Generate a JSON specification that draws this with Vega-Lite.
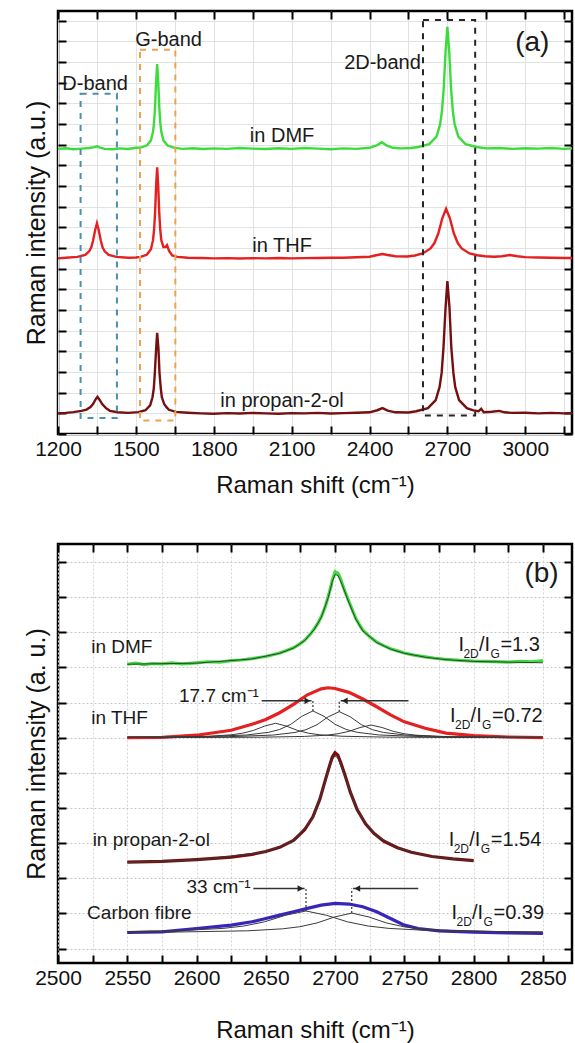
{
  "$schema": "https://vega.github.io/schema/vega-lite/v6.json",
  "padding": {"left": 22, "top": 8, "right": 0, "bottom": 0},
  "spacing": 110,
  "bounds": "flush",
  "config": {
    "font": "Liberation Sans",
    "view": {"stroke": "#000", "strokeWidth": 2.5},
    "axis": {"domain": false, "tickColor": "#000", "tickWidth": 2, "tickSize": -8, "labelFont": "Liberation Sans", "labelFontSize": 21, "labelColor": "#111", "labelFlush": false, "titleFont": "Liberation Sans", "titleFontWeight": "normal", "titleColor": "#111", "titleFontSize": 24, "gridColor": "#e2e2e2", "gridWidth": 1}
  },
  "datasets": {
    "a": [
      {"s":"DMF","x":1200,"y":13.80},{"s":"DMF","x":1230,"y":13.83},{"s":"DMF","x":1260,"y":13.78},{"s":"DMF","x":1290,"y":13.81},{"s":"DMF","x":1320,"y":13.84},{"s":"DMF","x":1340,"y":13.88},{"s":"DMF","x":1350,"y":13.92},{"s":"DMF","x":1360,"y":13.87},{"s":"DMF","x":1380,"y":13.80},{"s":"DMF","x":1410,"y":13.78},{"s":"DMF","x":1440,"y":13.82},{"s":"DMF","x":1470,"y":13.79},{"s":"DMF","x":1500,"y":13.85},{"s":"DMF","x":1518,"y":13.86},{"s":"DMF","x":1542,"y":13.96},{"s":"DMF","x":1558,"y":14.21},{"s":"DMF","x":1566,"y":14.62},{"s":"DMF","x":1570,"y":15.06},{"s":"DMF","x":1574,"y":15.85},{"s":"DMF","x":1578,"y":17.08},{"s":"DMF","x":1582,"y":17.9},{"s":"DMF","x":1586,"y":17.08},{"s":"DMF","x":1590,"y":15.85},{"s":"DMF","x":1594,"y":15.06},{"s":"DMF","x":1598,"y":14.62},{"s":"DMF","x":1606,"y":14.21},{"s":"DMF","x":1622,"y":13.96},{"s":"DMF","x":1646,"y":13.86},{"s":"DMF","x":1680,"y":13.80},{"s":"DMF","x":1720,"y":13.83},{"s":"DMF","x":1760,"y":13.79},{"s":"DMF","x":1800,"y":13.82},{"s":"DMF","x":1850,"y":13.80},{"s":"DMF","x":1900,"y":13.84},{"s":"DMF","x":1950,"y":13.81},{"s":"DMF","x":2000,"y":13.79},{"s":"DMF","x":2050,"y":13.83},{"s":"DMF","x":2100,"y":13.80},{"s":"DMF","x":2150,"y":13.84},{"s":"DMF","x":2200,"y":13.81},{"s":"DMF","x":2250,"y":13.78},{"s":"DMF","x":2300,"y":13.82},{"s":"DMF","x":2350,"y":13.80},{"s":"DMF","x":2400,"y":13.85},{"s":"DMF","x":2430,"y":13.98},{"s":"DMF","x":2447,"y":14.12},{"s":"DMF","x":2465,"y":13.97},{"s":"DMF","x":2490,"y":13.85},{"s":"DMF","x":2520,"y":13.82},{"s":"DMF","x":2560,"y":13.84},{"s":"DMF","x":2588,"y":13.89},{"s":"DMF","x":2630,"y":14.03},{"s":"DMF","x":2658,"y":14.39},{"s":"DMF","x":2672,"y":14.98},{"s":"DMF","x":2679,"y":15.62},{"s":"DMF","x":2686,"y":16.75},{"s":"DMF","x":2693,"y":18.52},{"s":"DMF","x":2700,"y":19.7},{"s":"DMF","x":2707,"y":18.52},{"s":"DMF","x":2714,"y":16.75},{"s":"DMF","x":2721,"y":15.62},{"s":"DMF","x":2728,"y":14.98},{"s":"DMF","x":2742,"y":14.39},{"s":"DMF","x":2770,"y":14.03},{"s":"DMF","x":2812,"y":13.89},{"s":"DMF","x":2850,"y":13.82},{"s":"DMF","x":2900,"y":13.84},{"s":"DMF","x":2950,"y":13.80},{"s":"DMF","x":3000,"y":13.83},{"s":"DMF","x":3050,"y":13.81},{"s":"DMF","x":3100,"y":13.84},{"s":"DMF","x":3150,"y":13.80},{"s":"DMF","x":3180,"y":13.82},
      {"s":"THF","x":1200,"y":8.50},{"s":"THF","x":1230,"y":8.53},{"s":"THF","x":1275,"y":8.57},{"s":"THF","x":1305,"y":8.67},{"s":"THF","x":1320,"y":8.84},{"s":"THF","x":1328,"y":9.02},{"s":"THF","x":1335,"y":9.35},{"s":"THF","x":1343,"y":9.86},{"s":"THF","x":1350,"y":10.2},{"s":"THF","x":1357,"y":9.86},{"s":"THF","x":1365,"y":9.35},{"s":"THF","x":1372,"y":9.02},{"s":"THF","x":1380,"y":8.84},{"s":"THF","x":1395,"y":8.67},{"s":"THF","x":1425,"y":8.57},{"s":"THF","x":1470,"y":8.53},{"s":"THF","x":1500,"y":8.54},{"s":"THF","x":1518,"y":8.57},{"s":"THF","x":1542,"y":8.67},{"s":"THF","x":1558,"y":8.94},{"s":"THF","x":1566,"y":9.38},{"s":"THF","x":1570,"y":9.86},{"s":"THF","x":1574,"y":10.7},{"s":"THF","x":1578,"y":12.02},{"s":"THF","x":1582,"y":12.9},{"s":"THF","x":1586,"y":12.02},{"s":"THF","x":1590,"y":10.7},{"s":"THF","x":1594,"y":9.86},{"s":"THF","x":1598,"y":9.38},{"s":"THF","x":1606,"y":9.05},{"s":"THF","x":1614,"y":9.05},{"s":"THF","x":1620,"y":9.14},{"s":"THF","x":1628,"y":8.86},{"s":"THF","x":1640,"y":8.64},{"s":"THF","x":1660,"y":8.57},{"s":"THF","x":1700,"y":8.53},{"s":"THF","x":1750,"y":8.52},{"s":"THF","x":1800,"y":8.50},{"s":"THF","x":1850,"y":8.51},{"s":"THF","x":1900,"y":8.49},{"s":"THF","x":1950,"y":8.51},{"s":"THF","x":2000,"y":8.50},{"s":"THF","x":2050,"y":8.52},{"s":"THF","x":2100,"y":8.50},{"s":"THF","x":2150,"y":8.51},{"s":"THF","x":2200,"y":8.52},{"s":"THF","x":2250,"y":8.53},{"s":"THF","x":2300,"y":8.53},{"s":"THF","x":2350,"y":8.55},{"s":"THF","x":2400,"y":8.58},{"s":"THF","x":2430,"y":8.66},{"s":"THF","x":2450,"y":8.71},{"s":"THF","x":2470,"y":8.66},{"s":"THF","x":2500,"y":8.60},{"s":"THF","x":2545,"y":8.59},{"s":"THF","x":2575,"y":8.64},{"s":"THF","x":2605,"y":8.74},{"s":"THF","x":2635,"y":8.98},{"s":"THF","x":2650,"y":9.24},{"s":"THF","x":2665,"y":9.70},{"s":"THF","x":2680,"y":10.42},{"s":"THF","x":2695,"y":10.9},{"s":"THF","x":2710,"y":10.42},{"s":"THF","x":2725,"y":9.70},{"s":"THF","x":2740,"y":9.24},{"s":"THF","x":2755,"y":8.98},{"s":"THF","x":2785,"y":8.74},{"s":"THF","x":2815,"y":8.65},{"s":"THF","x":2845,"y":8.60},{"s":"THF","x":2880,"y":8.58},{"s":"THF","x":2910,"y":8.60},{"s":"THF","x":2940,"y":8.66},{"s":"THF","x":2970,"y":8.60},{"s":"THF","x":3000,"y":8.56},{"s":"THF","x":3050,"y":8.54},{"s":"THF","x":3100,"y":8.53},{"s":"THF","x":3150,"y":8.52},{"s":"THF","x":3180,"y":8.52},
      {"s":"propan","x":1200,"y":1.00},{"s":"propan","x":1230,"y":1.02},{"s":"propan","x":1260,"y":1.06},{"s":"propan","x":1290,"y":1.12},{"s":"propan","x":1310,"y":1.18},{"s":"propan","x":1325,"y":1.30},{"s":"propan","x":1335,"y":1.45},{"s":"propan","x":1345,"y":1.68},{"s":"propan","x":1352,"y":1.80},{"s":"propan","x":1360,"y":1.66},{"s":"propan","x":1370,"y":1.45},{"s":"propan","x":1385,"y":1.25},{"s":"propan","x":1400,"y":1.12},{"s":"propan","x":1430,"y":1.05},{"s":"propan","x":1470,"y":1.02},{"s":"propan","x":1510,"y":1.06},{"s":"propan","x":1537,"y":1.15},{"s":"propan","x":1555,"y":1.39},{"s":"propan","x":1564,"y":1.78},{"s":"propan","x":1569,"y":2.20},{"s":"propan","x":1573,"y":2.95},{"s":"propan","x":1578,"y":4.12},{"s":"propan","x":1582,"y":4.9},{"s":"propan","x":1587,"y":4.12},{"s":"propan","x":1591,"y":2.95},{"s":"propan","x":1596,"y":2.20},{"s":"propan","x":1600,"y":1.78},{"s":"propan","x":1609,"y":1.45},{"s":"propan","x":1618,"y":1.30},{"s":"propan","x":1627,"y":1.17},{"s":"propan","x":1654,"y":1.07},{"s":"propan","x":1700,"y":1.03},{"s":"propan","x":1750,"y":1.00},{"s":"propan","x":1800,"y":0.98},{"s":"propan","x":1850,"y":1.01},{"s":"propan","x":1900,"y":0.99},{"s":"propan","x":1950,"y":1.02},{"s":"propan","x":2000,"y":1.00},{"s":"propan","x":2050,"y":0.98},{"s":"propan","x":2100,"y":1.01},{"s":"propan","x":2150,"y":1.00},{"s":"propan","x":2200,"y":1.02},{"s":"propan","x":2250,"y":0.99},{"s":"propan","x":2300,"y":1.01},{"s":"propan","x":2350,"y":1.03},{"s":"propan","x":2400,"y":1.05},{"s":"propan","x":2430,"y":1.15},{"s":"propan","x":2450,"y":1.25},{"s":"propan","x":2470,"y":1.13},{"s":"propan","x":2500,"y":1.05},{"s":"propan","x":2550,"y":1.04},{"s":"propan","x":2580,"y":1.10},{"s":"propan","x":2625,"y":1.25},{"s":"propan","x":2655,"y":1.64},{"s":"propan","x":2670,"y":2.28},{"s":"propan","x":2678,"y":2.97},{"s":"propan","x":2685,"y":4.20},{"s":"propan","x":2693,"y":6.12},{"s":"propan","x":2700,"y":7.4},{"s":"propan","x":2708,"y":6.12},{"s":"propan","x":2715,"y":4.20},{"s":"propan","x":2723,"y":2.97},{"s":"propan","x":2730,"y":2.28},{"s":"propan","x":2745,"y":1.64},{"s":"propan","x":2775,"y":1.25},{"s":"propan","x":2800,"y":1.14},{"s":"propan","x":2820,"y":1.10},{"s":"propan","x":2830,"y":1.22},{"s":"propan","x":2840,"y":1.05},{"s":"propan","x":2870,"y":1.08},{"s":"propan","x":2900,"y":1.12},{"s":"propan","x":2920,"y":1.05},{"s":"propan","x":2950,"y":1.02},{"s":"propan","x":3000,"y":1.03},{"s":"propan","x":3050,"y":1.00},{"s":"propan","x":3100,"y":1.02},{"s":"propan","x":3150,"y":1.00},{"s":"propan","x":3180,"y":1.01}
    ],
    "aBox": [
      {"band":"D","x1":1287,"x2":1427,"y1":0.77,"y2":16.46},
      {"band":"G","x1":1516,"x2":1652,"y1":0.65,"y2":18.59},
      {"band":"2D","x1":2606,"x2":2807,"y1":0.9,"y2":20.04}
    ],
    "aText": [
      {"label":"D-band","x":1343,"y":16.96},
      {"label":"G-band","x":1626,"y":19.07},
      {"label":"2D-band","x":2450,"y":17.97},
      {"label":"in DMF","x":2063,"y":14.4},
      {"label":"in THF","x":2063,"y":9.1},
      {"label":"in propan-2-ol","x":2063,"y":1.6}
    ],
    "aTag": [{"label":"(a)","x":3027,"y":18.9}],
    "b": [
      {"s":"DMF","x":2550,"y":8.09},{"s":"DMF","x":2556,"y":8.12},{"s":"DMF","x":2562,"y":8.08},{"s":"DMF","x":2568,"y":8.11},{"s":"DMF","x":2575,"y":8.10},{"s":"DMF","x":2582,"y":8.13},{"s":"DMF","x":2590,"y":8.10},{"s":"DMF","x":2600,"y":8.13},{"s":"DMF","x":2608,"y":8.16},{"s":"DMF","x":2617,"y":8.15},{"s":"DMF","x":2625,"y":8.19},{"s":"DMF","x":2632,"y":8.21},{"s":"DMF","x":2640,"y":8.25},{"s":"DMF","x":2645,"y":8.28},{"s":"DMF","x":2650,"y":8.31},{"s":"DMF","x":2655,"y":8.36},{"s":"DMF","x":2660,"y":8.41},{"s":"DMF","x":2665,"y":8.48},{"s":"DMF","x":2670,"y":8.56},{"s":"DMF","x":2674,"y":8.65},{"s":"DMF","x":2678,"y":8.77},{"s":"DMF","x":2682,"y":8.94},{"s":"DMF","x":2685,"y":9.10},{"s":"DMF","x":2688,"y":9.28},{"s":"DMF","x":2690,"y":9.44},{"s":"DMF","x":2693,"y":9.74},{"s":"DMF","x":2695,"y":10.01},{"s":"DMF","x":2697,"y":10.30},{"s":"DMF","x":2698,"y":10.49},{"s":"DMF","x":2700,"y":10.72},{"s":"DMF","x":2702,"y":10.68},{"s":"DMF","x":2704,"y":10.52},{"s":"DMF","x":2705,"y":10.39},{"s":"DMF","x":2707,"y":10.17},{"s":"DMF","x":2710,"y":9.87},{"s":"DMF","x":2713,"y":9.58},{"s":"DMF","x":2715,"y":9.39},{"s":"DMF","x":2718,"y":9.18},{"s":"DMF","x":2720,"y":9.06},{"s":"DMF","x":2725,"y":8.87},{"s":"DMF","x":2730,"y":8.72},{"s":"DMF","x":2735,"y":8.62},{"s":"DMF","x":2740,"y":8.53},{"s":"DMF","x":2745,"y":8.47},{"s":"DMF","x":2750,"y":8.41},{"s":"DMF","x":2757,"y":8.35},{"s":"DMF","x":2765,"y":8.30},{"s":"DMF","x":2772,"y":8.26},{"s":"DMF","x":2780,"y":8.23},{"s":"DMF","x":2790,"y":8.20},{"s":"DMF","x":2800,"y":8.18},{"s":"DMF","x":2810,"y":8.17},{"s":"DMF","x":2825,"y":8.15},{"s":"DMF","x":2835,"y":8.17},{"s":"DMF","x":2842,"y":8.16},{"s":"DMF","x":2850,"y":8.19},
      {"s":"THF","x":2550,"y":6.0},{"s":"THF","x":2575,"y":6.01},{"s":"THF","x":2600,"y":6.07},{"s":"THF","x":2625,"y":6.21},{"s":"THF","x":2640,"y":6.38},{"s":"THF","x":2650,"y":6.52},{"s":"THF","x":2660,"y":6.71},{"s":"THF","x":2670,"y":6.95},{"s":"THF","x":2680,"y":7.22},{"s":"THF","x":2690,"y":7.39},{"s":"THF","x":2695,"y":7.42},{"s":"THF","x":2700,"y":7.40},{"s":"THF","x":2710,"y":7.29},{"s":"THF","x":2720,"y":7.10},{"s":"THF","x":2730,"y":6.88},{"s":"THF","x":2740,"y":6.65},{"s":"THF","x":2750,"y":6.45},{"s":"THF","x":2765,"y":6.27},{"s":"THF","x":2780,"y":6.13},{"s":"THF","x":2800,"y":6.06},{"s":"THF","x":2825,"y":6.02},{"s":"THF","x":2850,"y":6.0},
      {"s":"propan","x":2550,"y":2.46},{"s":"propan","x":2575,"y":2.48},{"s":"propan","x":2600,"y":2.53},{"s":"propan","x":2625,"y":2.60},{"s":"propan","x":2640,"y":2.68},{"s":"propan","x":2650,"y":2.76},{"s":"propan","x":2660,"y":2.88},{"s":"propan","x":2670,"y":3.08},{"s":"propan","x":2678,"y":3.38},{"s":"propan","x":2684,"y":3.75},{"s":"propan","x":2689,"y":4.25},{"s":"propan","x":2693,"y":4.8},{"s":"propan","x":2696,"y":5.2},{"s":"propan","x":2698,"y":5.45},{"s":"propan","x":2700,"y":5.57},{"s":"propan","x":2702,"y":5.5},{"s":"propan","x":2704,"y":5.3},{"s":"propan","x":2707,"y":4.95},{"s":"propan","x":2711,"y":4.45},{"s":"propan","x":2716,"y":3.95},{"s":"propan","x":2722,"y":3.55},{"s":"propan","x":2728,"y":3.28},{"s":"propan","x":2735,"y":3.06},{"s":"propan","x":2745,"y":2.87},{"s":"propan","x":2755,"y":2.74},{"s":"propan","x":2770,"y":2.62},{"s":"propan","x":2785,"y":2.55},{"s":"propan","x":2800,"y":2.50},
      {"s":"CF","x":2550,"y":0.457},{"s":"CF","x":2575,"y":0.476},{"s":"CF","x":2600,"y":0.571},{"s":"CF","x":2625,"y":0.667},{"s":"CF","x":2640,"y":0.762},{"s":"CF","x":2650,"y":0.857},{"s":"CF","x":2660,"y":0.952},{"s":"CF","x":2670,"y":1.048},{"s":"CF","x":2680,"y":1.143},{"s":"CF","x":2690,"y":1.238},{"s":"CF","x":2700,"y":1.286},{"s":"CF","x":2710,"y":1.267},{"s":"CF","x":2720,"y":1.19},{"s":"CF","x":2730,"y":1.048},{"s":"CF","x":2740,"y":0.857},{"s":"CF","x":2750,"y":0.667},{"s":"CF","x":2760,"y":0.571},{"s":"CF","x":2775,"y":0.505},{"s":"CF","x":2800,"y":0.467},{"s":"CF","x":2825,"y":0.448},{"s":"CF","x":2850,"y":0.43}
    ],
    "bFit": [
      {"s":"fDMF","x":2550,"y":8.09},{"s":"fDMF","x":2600,"y":8.12},{"s":"fDMF","x":2640,"y":8.24},{"s":"fDMF","x":2660,"y":8.40},{"s":"fDMF","x":2670,"y":8.55},{"s":"fDMF","x":2678,"y":8.76},{"s":"fDMF","x":2685,"y":9.08},{"s":"fDMF","x":2690,"y":9.42},{"s":"fDMF","x":2695,"y":9.98},{"s":"fDMF","x":2698,"y":10.44},{"s":"fDMF","x":2700,"y":10.64},{"s":"fDMF","x":2702,"y":10.62},{"s":"fDMF","x":2705,"y":10.36},{"s":"fDMF","x":2710,"y":9.84},{"s":"fDMF","x":2715,"y":9.37},{"s":"fDMF","x":2720,"y":9.04},{"s":"fDMF","x":2730,"y":8.71},{"s":"fDMF","x":2740,"y":8.52},{"s":"fDMF","x":2750,"y":8.40},{"s":"fDMF","x":2765,"y":8.29},{"s":"fDMF","x":2780,"y":8.22},{"s":"fDMF","x":2800,"y":8.17},{"s":"fDMF","x":2850,"y":8.13},
      {"s":"fProp","x":2550,"y":2.45},{"s":"fProp","x":2600,"y":2.52},{"s":"fProp","x":2650,"y":2.75},{"s":"fProp","x":2670,"y":3.06},{"s":"fProp","x":2684,"y":3.72},{"s":"fProp","x":2693,"y":4.75},{"s":"fProp","x":2698,"y":5.38},{"s":"fProp","x":2700,"y":5.48},{"s":"fProp","x":2702,"y":5.42},{"s":"fProp","x":2707,"y":4.9},{"s":"fProp","x":2716,"y":3.92},{"s":"fProp","x":2728,"y":3.26},{"s":"fProp","x":2745,"y":2.86},{"s":"fProp","x":2770,"y":2.61},{"s":"fProp","x":2800,"y":2.49},
      {"s":"c1","x":2550,"y":6.01},{"s":"c1","x":2577,"y":6.016},{"s":"c1","x":2609,"y":6.041},{"s":"c1","x":2625,"y":6.082},{"s":"c1","x":2633,"y":6.126},{"s":"c1","x":2641,"y":6.205},{"s":"c1","x":2649,"y":6.328},{"s":"c1","x":2657,"y":6.41},{"s":"c1","x":2665,"y":6.328},{"s":"c1","x":2673,"y":6.205},{"s":"c1","x":2681,"y":6.126},{"s":"c1","x":2689,"y":6.082},{"s":"c1","x":2705,"y":6.041},{"s":"c1","x":2737,"y":6.016},{"s":"c1","x":2785,"y":6.006},{"s":"c1","x":2850,"y":6.0},
      {"s":"c2","x":2550,"y":6.01},{"s":"c2","x":2604,"y":6.029},{"s":"c2","x":2636,"y":6.076},{"s":"c2","x":2652,"y":6.152},{"s":"c2","x":2660,"y":6.234},{"s":"c2","x":2668,"y":6.38},{"s":"c2","x":2676,"y":6.608},{"s":"c2","x":2684,"y":6.76},{"s":"c2","x":2692,"y":6.608},{"s":"c2","x":2700,"y":6.38},{"s":"c2","x":2708,"y":6.234},{"s":"c2","x":2716,"y":6.152},{"s":"c2","x":2732,"y":6.076},{"s":"c2","x":2764,"y":6.029},{"s":"c2","x":2812,"y":6.012},{"s":"c2","x":2850,"y":6.008},
      {"s":"c3","x":2550,"y":6.008},{"s":"c3","x":2575,"y":6.011},{"s":"c3","x":2623,"y":6.028},{"s":"c3","x":2655,"y":6.074},{"s":"c3","x":2671,"y":6.148},{"s":"c3","x":2679,"y":6.228},{"s":"c3","x":2687,"y":6.37},{"s":"c3","x":2695,"y":6.592},{"s":"c3","x":2703,"y":6.74},{"s":"c3","x":2711,"y":6.592},{"s":"c3","x":2719,"y":6.37},{"s":"c3","x":2727,"y":6.228},{"s":"c3","x":2735,"y":6.148},{"s":"c3","x":2751,"y":6.074},{"s":"c3","x":2783,"y":6.028},{"s":"c3","x":2831,"y":6.011},{"s":"c3","x":2850,"y":6.008},
      {"s":"c4","x":2550,"y":6.003},{"s":"c4","x":2598,"y":6.006},{"s":"c4","x":2646,"y":6.014},{"s":"c4","x":2678,"y":6.036},{"s":"c4","x":2694,"y":6.072},{"s":"c4","x":2702,"y":6.111},{"s":"c4","x":2710,"y":6.18},{"s":"c4","x":2718,"y":6.288},{"s":"c4","x":2726,"y":6.36},{"s":"c4","x":2734,"y":6.288},{"s":"c4","x":2742,"y":6.18},{"s":"c4","x":2750,"y":6.111},{"s":"c4","x":2758,"y":6.072},{"s":"c4","x":2774,"y":6.036},{"s":"c4","x":2806,"y":6.014},{"s":"c4","x":2850,"y":6.006},
      {"s":"k1","x":2550,"y":0.482},{"s":"k1","x":2589,"y":0.512},{"s":"k1","x":2619,"y":0.574},{"s":"k1","x":2634,"y":0.641},{"s":"k1","x":2649,"y":0.76},{"s":"k1","x":2664,"y":0.946},{"s":"k1","x":2679,"y":1.07},{"s":"k1","x":2694,"y":0.946},{"s":"k1","x":2709,"y":0.76},{"s":"k1","x":2724,"y":0.641},{"s":"k1","x":2739,"y":0.574},{"s":"k1","x":2769,"y":0.512},{"s":"k1","x":2829,"y":0.474},{"s":"k1","x":2850,"y":0.47},
      {"s":"k2","x":2550,"y":0.463},{"s":"k2","x":2587,"y":0.472},{"s":"k2","x":2637,"y":0.506},{"s":"k2","x":2662,"y":0.562},{"s":"k2","x":2674.5,"y":0.622},{"s":"k2","x":2687,"y":0.73},{"s":"k2","x":2699.5,"y":0.898},{"s":"k2","x":2712,"y":1.01},{"s":"k2","x":2724.5,"y":0.898},{"s":"k2","x":2737,"y":0.73},{"s":"k2","x":2749.5,"y":0.622},{"s":"k2","x":2762,"y":0.562},{"s":"k2","x":2787,"y":0.506},{"s":"k2","x":2837,"y":0.472},{"s":"k2","x":2850,"y":0.468}
    ],
    "bMark": [
      {"x":2684,"y1":6.76,"y2":7.05},{"x":2703,"y1":6.74,"y2":7.05},
      {"x":2679,"y1":1.07,"y2":1.71},{"x":2712,"y1":1.01,"y2":1.71}
    ],
    "bArrow": [
      {"x1":2647,"x2":2683,"hx":2680,"y":7.05,"d":"R"},
      {"x1":2753,"x2":2704,"hx":2707,"y":7.05,"d":"L"},
      {"x1":2641,"x2":2678,"hx":2675,"y":1.71,"d":"R"},
      {"x1":2760,"x2":2713,"hx":2716,"y":1.71,"d":"L"}
    ],
    "bText": [
      {"label":"in DMF","x":2524,"y":8.57},
      {"label":"in THF","x":2524,"y":6.57},
      {"label":"in propan-2-ol","x":2525,"y":3.1},
      {"label":"Carbon fibre","x":2521,"y":1.0}
    ],
    "bWidth": [
      {"label":"17.7 cm⁻¹","x":2645,"y":7.2},
      {"label":"33 cm⁻¹","x":2639,"y":1.75}
    ],
    "bRatio": [
      {"x":2789,"y":8.64,"val":"=1.3"},
      {"x":2783,"y":6.62,"val":"=0.72"},
      {"x":2782,"y":3.1,"val":"=1.54"},
      {"x":2784,"y":1.0,"val":"=0.39"}
    ],
    "bTag": [{"label":"(b)","x":2849,"y":10.67}]
  },
  "vconcat": [
    {
      "width": 514,
      "height": 423,
      "resolve": {"axis": {"x": "independent", "y": "independent"}},
      "layer": [
        {
          "data": {"name": "a"},
          "mark": {"type": "line", "strokeWidth": 2.4},
          "encoding": {
            "x": {"field": "x", "type": "quantitative", "scale": {"domain": [1200, 3180], "nice": false, "zero": false},
              "axis": {"orient": "bottom", "values": [1200,1350,1500,1650,1800,1950,2100,2250,2400,2550,2700,2850,3000,3150], "format": "d", "labelExpr": "datum.value % 300 === 0 ? datum.label : ''", "grid": true, "title": "Raman shift (cm⁻¹)", "labelPadding": 12, "titlePadding": 14}},
            "y": {"field": "y", "type": "quantitative", "scale": {"domain": [0, 20.47], "nice": false, "zero": false},
              "axis": {"orient": "left", "values": [0,1,2,3,4,5,6,7,8,9,10,11,12,13,14,15,16,17,18,19,20], "labels": false, "grid": true, "title": "Raman intensity (a.u.)", "titleFontSize": 25, "titlePadding": 8}},
            "color": {"field": "s", "type": "nominal", "scale": {"domain": ["DMF", "THF", "propan", "CF"], "range": ["#3cdc3c", "#e42020", "#761010", "#3826b8"]}, "legend": null}
          }
        },
        {
          "data": {"name": "aBox"},
          "mark": {"type": "rect", "fillOpacity": 0, "strokeWidth": 2, "strokeDash": [6, 6]},
          "encoding": {
            "x": {"field": "x1", "type": "quantitative", "scale": {"domain": [1200, 3180], "nice": false, "zero": false},
              "axis": {"orient": "top", "values": [1200,1350,1500,1650,1800,1950,2100,2250,2400,2550,2700,2850,3000,3150], "labels": false, "grid": false, "title": null}},
            "x2": {"field": "x2"},
            "y": {"field": "y1", "type": "quantitative", "scale": {"domain": [0, 20.47], "nice": false, "zero": false},
              "axis": {"orient": "right", "values": [0,1,2,3,4,5,6,7,8,9,10,11,12,13,14,15,16,17,18,19,20], "labels": false, "grid": false, "title": null}},
            "y2": {"field": "y2"},
            "stroke": {"field": "band", "type": "nominal", "scale": {"domain": ["D", "G", "2D"], "range": ["#4b8fae", "#eea150", "#262626"]}, "legend": null}
          }
        },
        {
          "data": {"name": "aText"},
          "mark": {"type": "text", "fontSize": 20, "align": "center", "baseline": "middle", "color": "#1a1a1a"},
          "encoding": {
            "x": {"field": "x", "type": "quantitative", "axis": null},
            "y": {"field": "y", "type": "quantitative", "axis": null},
            "text": {"field": "label"}
          }
        },
        {
          "data": {"name": "aTag"},
          "mark": {"type": "text", "fontSize": 28, "align": "center", "baseline": "middle", "color": "#1a1a1a"},
          "encoding": {
            "x": {"field": "x", "type": "quantitative", "axis": null},
            "y": {"field": "y", "type": "quantitative", "axis": null},
            "text": {"field": "label"}
          }
        }
      ]
    },
    {
      "width": 514,
      "height": 419,
      "resolve": {"axis": {"x": "independent", "y": "independent"}},
      "layer": [
        {
          "data": {"name": "b"},
          "mark": {"type": "line", "strokeWidth": 3.2},
          "encoding": {
            "x": {"field": "x", "type": "quantitative", "scale": {"domain": [2500, 2871], "nice": false, "zero": false},
              "axis": {"orient": "bottom", "values": [2500,2525,2550,2575,2600,2625,2650,2675,2700,2725,2750,2775,2800,2825,2850], "format": "d", "labelExpr": "datum.value % 50 === 0 ? datum.label : ''", "grid": true, "gridDash": [2, 2], "gridColor": "#d6d6d6", "title": "Raman shift (cm⁻¹)", "labelPadding": 12, "titlePadding": 30}},
            "y": {"field": "y", "type": "quantitative", "scale": {"domain": [-0.41, 11.51], "nice": false, "zero": false},
              "axis": {"orient": "left", "values": [0,1,2,3,4,5,6,7,8,9,10,11], "labels": false, "grid": true, "gridDash": [2, 2], "gridColor": "#c4c4c4", "title": "Raman intensity (a. u.)", "titleFontSize": 25, "titlePadding": 8}},
            "color": {"field": "s", "type": "nominal", "scale": {"domain": ["DMF", "THF", "propan", "CF"], "range": ["#3cdc3c", "#e42020", "#761010", "#3826b8"]}, "legend": null}
          }
        },
        {
          "data": {"name": "bFit"},
          "mark": {"type": "line", "strokeWidth": 1, "color": "#3a3a3a"},
          "encoding": {
            "x": {"field": "x", "type": "quantitative", "scale": {"domain": [2500, 2871], "nice": false, "zero": false},
              "axis": {"orient": "top", "values": [2500,2525,2550,2575,2600,2625,2650,2675,2700,2725,2750,2775,2800,2825,2850], "labels": false, "grid": false, "title": null}},
            "y": {"field": "y", "type": "quantitative", "scale": {"domain": [-0.41, 11.51], "nice": false, "zero": false},
              "axis": {"orient": "right", "values": [0,1,2,3,4,5,6,7,8,9,10,11], "labels": false, "grid": false, "title": null}},
            "detail": {"field": "s", "type": "nominal"}
          }
        },
        {
          "data": {"name": "bMark"},
          "mark": {"type": "rule", "strokeWidth": 1.2, "strokeDash": [2, 2], "color": "#333"},
          "encoding": {
            "x": {"field": "x", "type": "quantitative", "axis": null},
            "y": {"field": "y1", "type": "quantitative", "axis": null},
            "y2": {"field": "y2"}
          }
        },
        {
          "data": {"name": "bArrow"},
          "mark": {"type": "rule", "strokeWidth": 1.3, "color": "#333"},
          "encoding": {
            "x": {"field": "x1", "type": "quantitative", "axis": null},
            "x2": {"field": "x2"},
            "y": {"field": "y", "type": "quantitative", "axis": null}
          }
        },
        {
          "data": {"name": "bArrow"},
          "mark": {"type": "point", "filled": true, "size": 45, "color": "#222", "opacity": 1},
          "encoding": {
            "x": {"field": "hx", "type": "quantitative", "axis": null},
            "y": {"field": "y", "type": "quantitative", "axis": null},
            "shape": {"field": "d", "type": "nominal", "scale": {"domain": ["L", "R"], "range": ["triangle-left", "triangle-right"]}, "legend": null}
          }
        },
        {
          "data": {"name": "bText"},
          "mark": {"type": "text", "fontSize": 19, "align": "left", "baseline": "middle", "color": "#1a1a1a"},
          "encoding": {
            "x": {"field": "x", "type": "quantitative", "axis": null},
            "y": {"field": "y", "type": "quantitative", "axis": null},
            "text": {"field": "label"}
          }
        },
        {
          "data": {"name": "bWidth"},
          "mark": {"type": "text", "fontSize": 19, "align": "right", "baseline": "middle", "color": "#1a1a1a"},
          "encoding": {
            "x": {"field": "x", "type": "quantitative", "axis": null},
            "y": {"field": "y", "type": "quantitative", "axis": null},
            "text": {"field": "label"}
          }
        },
        {
          "data": {"name": "bRatio"},
          "mark": {"type": "text", "fontSize": 20, "align": "left", "baseline": "middle", "color": "#1a1a1a"},
          "encoding": {
            "x": {"field": "x", "type": "quantitative", "axis": null},
            "y": {"field": "y", "type": "quantitative", "axis": null},
            "text": {"value": "I"}
          }
        },
        {
          "data": {"name": "bRatio"},
          "mark": {"type": "text", "fontSize": 12, "align": "left", "baseline": "middle", "dx": 5, "dy": 9, "color": "#1a1a1a"},
          "encoding": {
            "x": {"field": "x", "type": "quantitative", "axis": null},
            "y": {"field": "y", "type": "quantitative", "axis": null},
            "text": {"value": "2D"}
          }
        },
        {
          "data": {"name": "bRatio"},
          "mark": {"type": "text", "fontSize": 20, "align": "left", "baseline": "middle", "dx": 20.5, "color": "#1a1a1a"},
          "encoding": {
            "x": {"field": "x", "type": "quantitative", "axis": null},
            "y": {"field": "y", "type": "quantitative", "axis": null},
            "text": {"value": "/I"}
          }
        },
        {
          "data": {"name": "bRatio"},
          "mark": {"type": "text", "fontSize": 12, "align": "left", "baseline": "middle", "dx": 32, "dy": 9, "color": "#1a1a1a"},
          "encoding": {
            "x": {"field": "x", "type": "quantitative", "axis": null},
            "y": {"field": "y", "type": "quantitative", "axis": null},
            "text": {"value": "G"}
          }
        },
        {
          "data": {"name": "bRatio"},
          "mark": {"type": "text", "fontSize": 20, "align": "left", "baseline": "middle", "dx": 42, "color": "#1a1a1a"},
          "encoding": {
            "x": {"field": "x", "type": "quantitative", "axis": null},
            "y": {"field": "y", "type": "quantitative", "axis": null},
            "text": {"field": "val"}
          }
        },
        {
          "data": {"name": "bTag"},
          "mark": {"type": "text", "fontSize": 28, "align": "center", "baseline": "middle", "color": "#1a1a1a"},
          "encoding": {
            "x": {"field": "x", "type": "quantitative", "axis": null},
            "y": {"field": "y", "type": "quantitative", "axis": null},
            "text": {"field": "label"}
          }
        }
      ]
    }
  ]
}
